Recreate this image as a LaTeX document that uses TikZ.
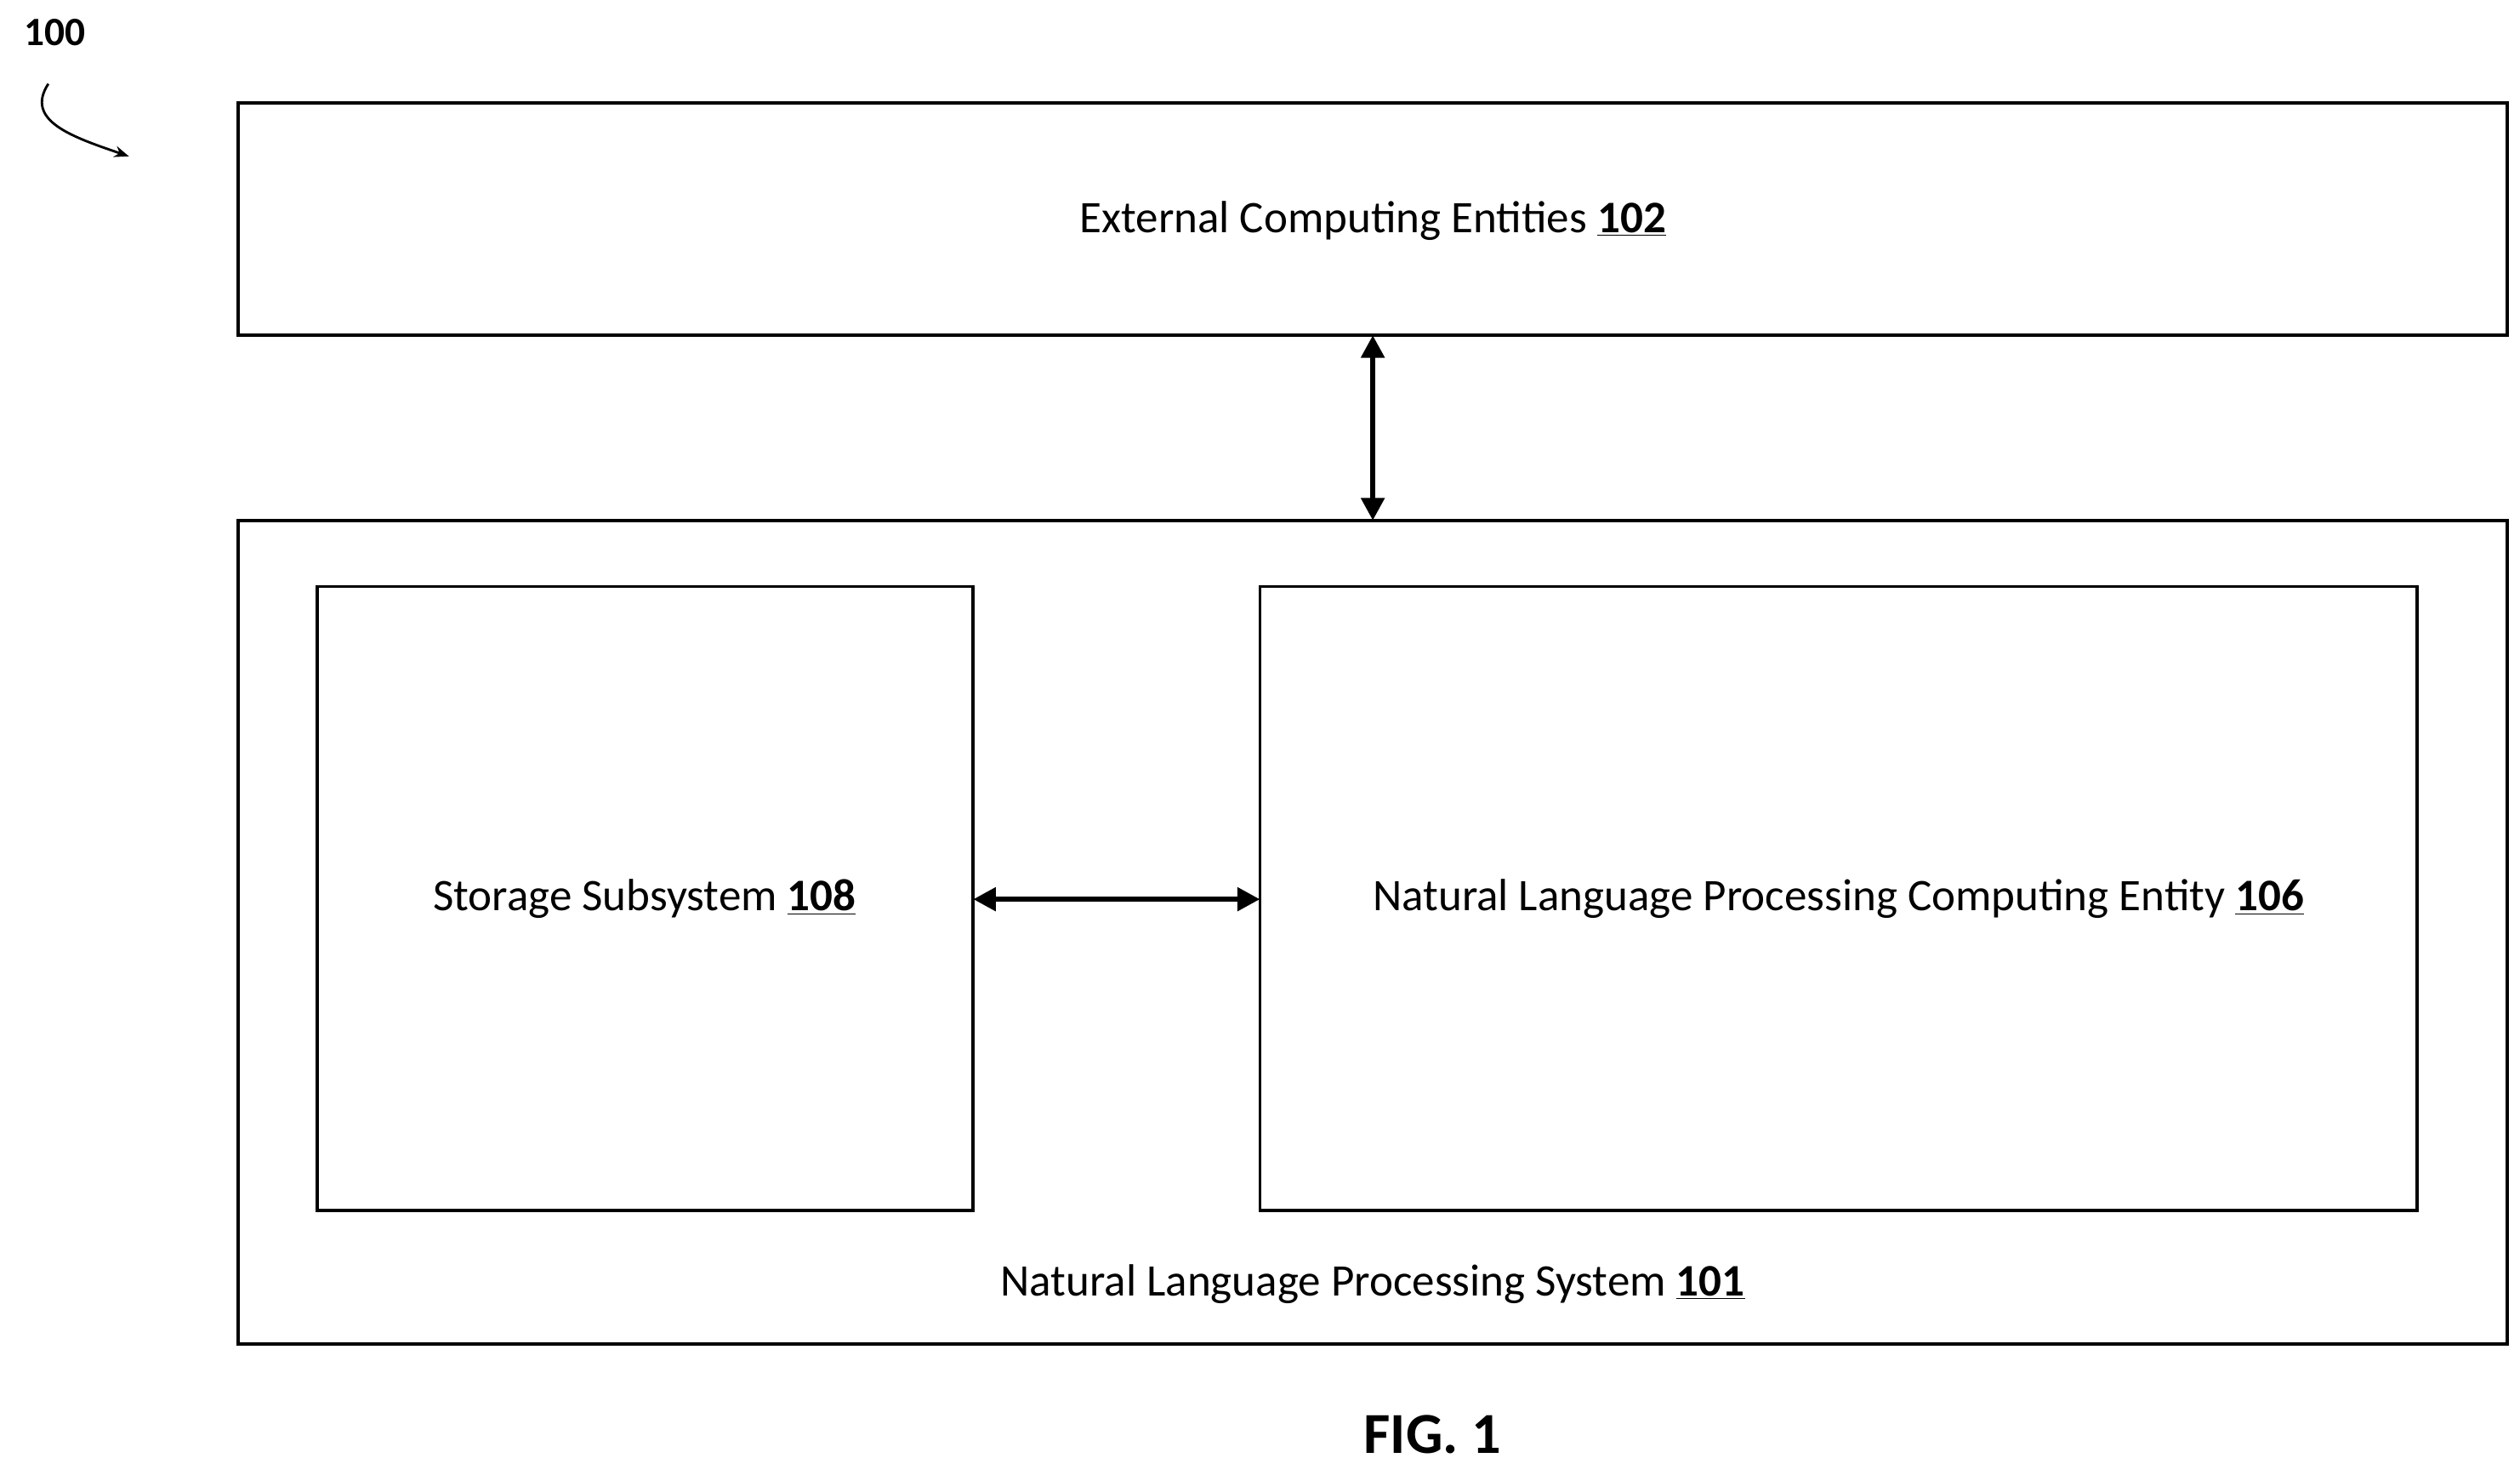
\documentclass[tikz,border=0pt]{standalone}
\usepackage{fontspec}
\setmainfont{Carlito}
\usetikzlibrary{arrows.meta}
\begin{document}
\begin{tikzpicture}[x=1pt,y=-1pt,
  box/.style={draw,line width=2pt},
  lbl/.style={font=\fontsize{28}{32}\selectfont},
  arr/.style={line width=3.5pt,{Triangle[length=14pt,width=14pt]}-{Triangle[length=14pt,width=14pt]}}]
\useasboundingbox (0,0) rectangle (1564,915);
\draw[box] (148,64) rectangle (1556,208);
\coordinate (tb) at (852,208);
\node[lbl] (ext) at (852,137) {External Computing Entities \textbf{\underline{102}}};
\draw[box] (148,323) rectangle (1556,834);
\coordinate (ot) at (852,323);
\node[lbl] (sys) at (852,797) {Natural Language Processing System \textbf{\underline{101}}};
\draw[box] (197,364) rectangle (604,751);
\coordinate (sr) at (604,558);
\node[lbl] (st) at (400,558) {Storage Subsystem \textbf{\underline{108}}};
\draw[box] (782,364) rectangle (1500,751);
\coordinate (nl) at (782,558);
\node[lbl] (nlp) at (1141,558) {Natural Language Processing Computing Entity \textbf{\underline{106}}};
\draw[arr] (tb) -- (ot);
\draw[arr] (sr) -- (nl);
\node[font=\fontsize{36}{40}\selectfont\bfseries] (fig) at (889,890) {FIG. 1};
\node[font=\fontsize{25}{28}\selectfont\bfseries] (n100) at (34,20) {100};
\coordinate (a0) at (30,52);
\coordinate (a1) at (80,97);
\draw[line width=1.5pt,-{Stealth[length=9pt,width=7pt]}] (a0) .. controls (15,75) and (45,85) .. (a1);
\end{tikzpicture}
\end{document}
